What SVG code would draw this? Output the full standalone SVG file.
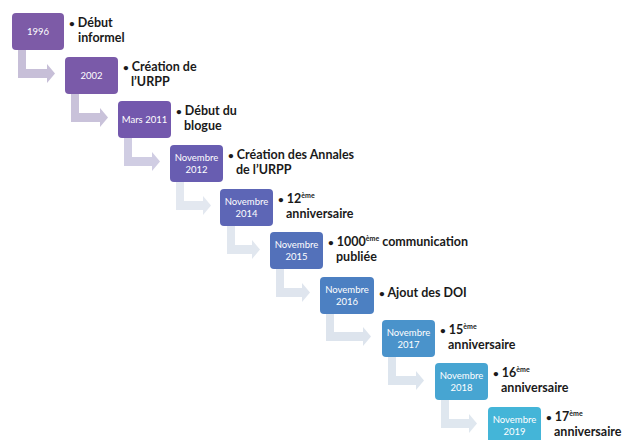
<svg xmlns="http://www.w3.org/2000/svg" width="622" height="440" viewBox="0 0 622 440">
<style>
.box{stroke:none}
.bl{font-family:Lato,"Open Sans","Liberation Sans",sans-serif;font-size:9.5px;fill:#ffffff;text-anchor:middle}
.tx{font-family:Lato,"Open Sans","Liberation Sans",sans-serif;font-size:12.5px;font-weight:bold;fill:#1a1a1a}
.sup{font-size:7px}
.bu{font-size:10px}
</style>
<rect width="622" height="440" fill="#ffffff"/>
<g id="connectors">
<path fill="#c7bfd8" d="M18,50 H26 V69 H47 V64 L55,73.5 L47,83 V78 H18 Z"/>
<path fill="#c9c2da" d="M71,94 H79 V113 H100 V108 L108,117.5 L100,127 V122 H71 Z"/>
<path fill="#d0cde3" d="M124,138 H132 V157 H152 V152 L160,161.5 L152,171 V166 H124 Z"/>
<path fill="#e3e8f0" d="M176,182 H184 V201 H203 V196 L211,205.5 L203,215 V210 H176 Z"/>
<path fill="#e1e7ef" d="M227,226 H235 V245 H252 V240 L260,249.5 L252,259 V254 H227 Z"/>
<path fill="#dfe5ee" d="M276,269 H284 V288 H302 V283 L310,292.5 L302,302 V297 H276 Z"/>
<path fill="#dde4ed" d="M326,313 H334 V332 H363 V327 L371,336.5 L363,346 V341 H326 Z"/>
<path fill="#dde5ee" d="M388,357 H396 V376 H416 V371 L424,380.5 L416,390 V385 H388 Z"/>
<path fill="#dfe7ef" d="M441,400 H449 V419 H469 V414 L477,423.5 L469,433 V428 H441 Z"/>
</g>
<g id="n1">
<rect class="box" x="12" y="13" width="52" height="37" rx="4" fill="#7d5ba7"/>
<text class="bl" x="38" y="34.5">1996</text>
<text class="tx" x="69" y="27"><tspan class="bu">•</tspan> Début</text>
<text class="tx" x="78" y="42">informel</text>
</g>
<g id="n2">
<rect class="box" x="65" y="57" width="53" height="37" rx="4" fill="#7a5aa9"/>
<text class="bl" x="91.5" y="78.5">2002</text>
<text class="tx" x="123" y="71"><tspan class="bu">•</tspan> Création de</text>
<text class="tx" x="131" y="86">l’URPP</text>
</g>
<g id="n3">
<rect class="box" x="118" y="101" width="53" height="37" rx="4" fill="#7358ad"/>
<text class="bl" x="144.5" y="122.5">Mars 2011</text>
<text class="tx" x="176" y="115"><tspan class="bu">•</tspan> Début du</text>
<text class="tx" x="184" y="130">blogue</text>
</g>
<g id="n4">
<rect class="box" x="170" y="145" width="53" height="37" rx="4" fill="#685db1"/>
<text class="bl" x="196.5" y="160.5">Novembre</text>
<text class="bl" x="196.5" y="173">2012</text>
<text class="tx" x="228" y="159"><tspan class="bu">•</tspan> Création des Annales</text>
<text class="tx" x="236" y="174">de l’URPP</text>
</g>
<g id="n5">
<rect class="box" x="220" y="189" width="53" height="37" rx="4" fill="#5d66b6"/>
<text class="bl" x="246.5" y="204.5">Novembre</text>
<text class="bl" x="246.5" y="217">2014</text>
<text class="tx" x="278" y="203"><tspan class="bu">•</tspan> 12<tspan class="sup" dy="-5">ème</tspan></text>
<text class="tx" x="286" y="218">anniversaire</text>
</g>
<g id="n6">
<rect class="box" x="270" y="232" width="53" height="37" rx="4" fill="#5371ba"/>
<text class="bl" x="296.5" y="247.5">Novembre</text>
<text class="bl" x="296.5" y="260">2015</text>
<text class="tx" x="328" y="246"><tspan class="bu">•</tspan> 1000<tspan class="sup" dy="-5">ème</tspan><tspan dy="5"> communication</tspan></text>
<text class="tx" x="336" y="261">publiée</text>
</g>
<g id="n7">
<rect class="box" x="320" y="277" width="54" height="37" rx="4" fill="#4c80c2"/>
<text class="bl" x="347" y="292.5">Novembre</text>
<text class="bl" x="347" y="305">2016</text>
<text class="tx" x="379" y="297"><tspan class="bu">•</tspan> Ajout des DOI</text>
</g>
<g id="n8">
<rect class="box" x="382" y="320" width="53" height="37" rx="4" fill="#4a93cb"/>
<text class="bl" x="408.5" y="335.5">Novembre</text>
<text class="bl" x="408.5" y="348">2017</text>
<text class="tx" x="440" y="334"><tspan class="bu">•</tspan> 15<tspan class="sup" dy="-5">ème</tspan></text>
<text class="tx" x="448" y="349">anniversaire</text>
</g>
<g id="n9">
<rect class="box" x="435" y="363" width="53" height="37" rx="4" fill="#47a5d2"/>
<text class="bl" x="461.5" y="378.5">Novembre</text>
<text class="bl" x="461.5" y="391">2018</text>
<text class="tx" x="493" y="377"><tspan class="bu">•</tspan> 16<tspan class="sup" dy="-5">ème</tspan></text>
<text class="tx" x="501" y="392">anniversaire</text>
</g>
<g id="n10">
<rect class="box" x="488" y="407" width="53" height="37" rx="4" fill="#44b5d8"/>
<text class="bl" x="514.5" y="422.5">Novembre</text>
<text class="bl" x="514.5" y="435">2019</text>
<text class="tx" x="546" y="421"><tspan class="bu">•</tspan> 17<tspan class="sup" dy="-5">ème</tspan></text>
<text class="tx" x="554" y="436">anniversaire</text>
</g>
</svg>
